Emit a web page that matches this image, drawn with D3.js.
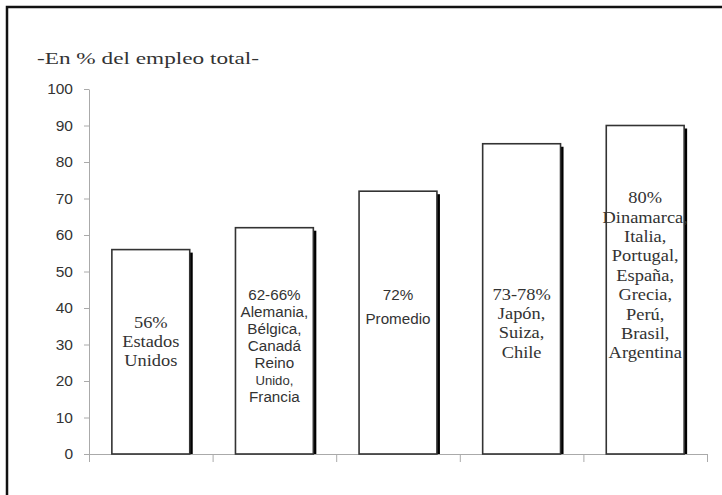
<!DOCTYPE html>
<html>
<head>
<meta charset="utf-8">
<script src="https://cdn.jsdelivr.net/npm/d3@7"></script>
<style>
  body { margin: 0; background: #fff; }
</style>
</head>
<body>
<div id="container"></div>
<script>
//---------- DATA ----------//
const categories = ["EEUU", "Europa", "Promedio", "Asia", "Resto"];
const values = [56, 62, 72, 85, 90];
const yTicks = [0, 10, 20, 30, 40, 50, 60, 70, 80, 90, 100];
const barLabels = [
    ["56%", "Estados", "Unidos"],
    ["62-66%", "Alemania,", "Bélgica,", "Canadá", "Reino", "Unido,", "Francia"],
    ["72%", "Promedio"],
    ["73-78%", "Japón,", "Suiza,", "Chile"],
    ["80%", "Dinamarca,", "Italia,", "Portugal,", "España,", "Grecia,", "Perú,", "Brasil,", "Argentina"]
];
const titleText = "-En % del empleo total-";

//---------- LAYOUT ----------//
const width = 722;
const height = 495;
const plotLeft = 89, plotRight = 707, plotTop = 89, plotBottom = 454;
const serifFont = "'Liberation Serif', 'Times New Roman', serif";
const sansFont = "'Liberation Sans', Arial, sans-serif";
// label styling per bar: font, first line (in value units), line gap
const labelStyle = [
    { serif: true,  start: 35.9, gap: 19 },
    { serif: false, start: 43.6, gap: 17 },
    { serif: false, start: 43.6, gap: 24 },
    { serif: true,  start: 43.6, gap: 19.3 },
    { serif: true,  start: 70.1, gap: 19.4 }
];

const svg = d3.select("#container")
    .append("svg")
    .attr("width", width)
    .attr("height", height);

// frame (only top and left edges show)
svg.append("path")
    .attr("d", `M7,${height} L7,7 L${width},7`)
    .attr("fill", "none")
    .attr("stroke", "#111")
    .attr("stroke-width", 2.5);

// title
svg.append("text")
    .attr("x", 37)
    .attr("y", 64)
    .style("font-family", serifFont)
    .attr("font-size", 17)
    .attr("fill", "#333")
    .attr("textLength", 222)
    .attr("lengthAdjust", "spacingAndGlyphs")
    .text(titleText);

//---------- SCALES ----------//
const yScale = d3.scaleLinear().domain([0, 100]).range([plotBottom, plotTop]);
const xScale = d3.scaleBand()
    .domain(categories)
    .range([plotLeft, plotRight])
    .paddingInner(0.37)
    .paddingOuter(0.185);
const edgeScale = d3.scaleLinear().domain([0, categories.length]).range([plotLeft, plotRight]);

//---------- AXES ----------//
const yAxis = svg.append("g")
    .attr("transform", `translate(${plotLeft},0)`)
    .call(d3.axisLeft(yScale).tickValues(yTicks).tickSize(5).tickSizeOuter(0).tickPadding(11));
yAxis.select(".domain").attr("stroke", "#aaa");
yAxis.selectAll(".tick line").attr("stroke", "#aaa");
yAxis.selectAll(".tick text")
    .style("font-family", sansFont)
    .attr("font-size", 15.5)
    .attr("fill", "#333");

const xAxis = svg.append("g")
    .attr("transform", `translate(0,${plotBottom})`)
    .call(d3.axisBottom(edgeScale)
        .tickValues(d3.range(categories.length + 1))
        .tickFormat("")
        .tickSize(8)
        .tickSizeOuter(0));
xAxis.select(".domain").attr("stroke", "#aaa");
xAxis.selectAll(".tick line").attr("stroke", "#aaa");

//---------- BARS ----------//
const bars = svg.selectAll(".bar")
    .data(values)
    .join("g")
    .attr("class", "bar");

// shadow on the right
bars.append("rect")
    .attr("x", (d, i) => xScale(categories[i]) + xScale.bandwidth() - 0.5)
    .attr("y", d => yScale(d) + 3)
    .attr("width", 3.5)
    .attr("height", d => plotBottom - yScale(d) - 3)
    .attr("fill", "#000");

bars.append("rect")
    .attr("x", (d, i) => xScale(categories[i]))
    .attr("y", d => yScale(d))
    .attr("width", xScale.bandwidth())
    .attr("height", d => plotBottom - yScale(d))
    .attr("fill", "#fff")
    .attr("stroke", "#333")
    .attr("stroke-width", 1.6);

//---------- LABELS ----------//
barLabels.forEach((lines, i) => {
    const st = labelStyle[i];
    const cx = xScale(categories[i]) + xScale.bandwidth() / 2;
    const y0 = yScale(st.start) + 5;
    const g = svg.append("g");
    lines.forEach((t, j) => {
        const small = (i === 1 && t === "Unido,");
        g.append("text")
            .attr("transform", `translate(${cx},${y0 + j * st.gap}) scale(${st.serif ? 1.15 : 1.05},1)`)
            .attr("text-anchor", "middle")
            .style("font-family", st.serif ? serifFont : sansFont)
            .attr("font-size", st.serif ? 16 : (small ? 12.5 : 14.5))
            .attr("fill", "#333")
            .text(t);
    });
});
</script>
</body>
</html>
